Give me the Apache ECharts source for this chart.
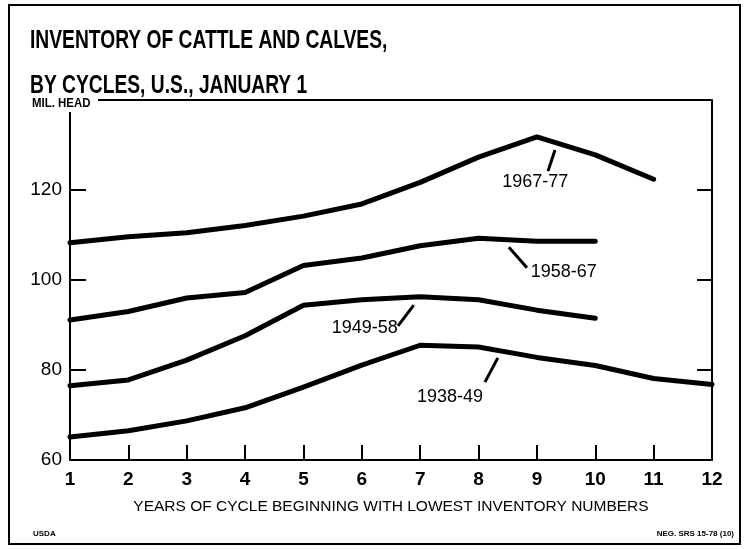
<!DOCTYPE html>
<html>
<head>
<meta charset="utf-8">
<script src="https://cdn.jsdelivr.net/npm/echarts@6/dist/echarts.min.js"></script>
<style>
  html, body { margin: 0; padding: 0; background: #fff; }
  #main { width: 746px; height: 549px; }
</style>
</head>
<body>
<div id="main"></div>
<script>
// 年份（周期中的第几年）
var years = [1, 2, 3, 4, 5, 6, 7, 8, 9, 10, 11, 12];
// 各周期存栏量，百万头
var cycle1938 = [65.1, 66.5, 68.7, 71.6, 76.2, 81.1, 85.5, 85.1, 82.8, 81.0, 78.1, 76.8];
var cycle1949 = [76.5, 77.8, 82.2, 87.6, 94.4, 95.6, 96.3, 95.6, 93.3, 91.5];
var cycle1958 = [91.1, 93.0, 96.0, 97.2, 103.2, 104.9, 107.6, 109.3, 108.6, 108.6];
var cycle1967 = [108.3, 109.6, 110.5, 112.1, 114.2, 116.9, 121.7, 127.3, 131.8, 127.8, 122.4];
var yTicks = [60, 80, 100, 120];

function pairs(vals) {
    return vals.map(function (v, i) { return [years[i], v]; });
}

var myChart = echarts.init(document.getElementById('main'));

var lineStyle = { color: '#000', width: 5, cap: 'round', join: 'round' };
var leader = { color: '#000', width: 3, type: 'solid' };
var lblFont = { color: '#000', fontFamily: 'Liberation Sans, Arial', fontSize: 18 };

function makeSeries(name, vals, labelPos, lineFrom, lineTo) {
    return {
        name: name,
        type: 'line',
        data: pairs(vals),
        symbol: 'none',
        lineStyle: lineStyle,
        silent: true,
        markPoint: {
            symbol: 'circle',
            symbolSize: 0,
            silent: true,
            label: Object.assign({ show: true, position: 'inside', formatter: name }, lblFont),
            data: [{ coord: labelPos }]
        },
        markLine: {
            symbol: 'none',
            silent: true,
            label: { show: false },
            lineStyle: leader,
            data: [[{ coord: lineFrom }, { coord: lineTo }]]
        }
    };
}

var option = {
    animation: false,
    grid: { left: 70, right: 34, top: 100, bottom: 89 },
    xAxis: [{
        type: 'value',
        min: 1, max: 12, interval: 1,
        name: 'YEARS OF CYCLE BEGINNING WITH LOWEST INVENTORY NUMBERS',
        nameLocation: 'middle',
        nameGap: 39,
        nameTextStyle: { color: '#000', fontFamily: 'Liberation Sans, Arial', fontSize: 15.5 },
        axisLine: { show: true, lineStyle: { color: '#000', width: 2 } },
        axisTick: { show: true, inside: true, length: 15, lineStyle: { color: '#000', width: 2 } },
        axisLabel: { color: '#000', margin: 10, fontFamily: 'Liberation Sans, Arial', fontWeight: 'bold', fontSize: 19 },
        splitLine: { show: false }
    }],
    yAxis: [{
        type: 'value',
        min: 60, max: 140, interval: 20,
        position: 'left',
        axisLine: { show: true, lineStyle: { color: '#000', width: 2 } },
        axisTick: { show: true, inside: true, length: 16, lineStyle: { color: '#000', width: 2 } },
        axisLabel: {
            color: '#000', margin: 8, fontFamily: 'Liberation Sans, Arial', fontSize: 19,
            formatter: function (v) { return yTicks.indexOf(v) >= 0 ? String(v) : ''; }
        },
        splitLine: { show: false }
    }, {
        type: 'value',
        min: 60, max: 140, interval: 20,
        position: 'right',
        axisLine: { show: true, lineStyle: { color: '#000', width: 2 } },
        axisTick: { show: true, inside: true, length: 15, lineStyle: { color: '#000', width: 2 } },
        axisLabel: { show: false },
        splitLine: { show: false }
    }],
    series: [
        makeSeries('1967-77', cycle1967, [8.97, 121.8], [9.31, 128.9], [9.19, 124.2]),
        makeSeries('1958-67', cycle1958, [9.46, 101.8], [8.52, 107.3], [8.83, 102.7]),
        makeSeries('1949-58', cycle1949, [6.05, 89.3], [6.89, 94.4], [6.62, 89.8]),
        makeSeries('1938-49', cycle1938, [7.51, 74.0], [8.33, 82.7], [8.11, 77.3])
    ],
    graphic: [
        // 外框
        { type: 'rect', shape: { x: 9, y: 5, width: 731, height: 539 }, style: { fill: 'none', stroke: '#000', lineWidth: 2 }, z: 10 },
        // 标题（字体压窄）
        { type: 'text', x: 30, y: 41, scaleX: 0.74, z: 30, style: { text: 'INVENTORY OF CATTLE AND CALVES,', fill: '#000', verticalAlign: 'middle', font: 'bold 26px "Liberation Sans", Arial' } },
        { type: 'text', x: 30, y: 86, scaleX: 0.74, z: 30, style: { text: 'BY CYCLES, U.S., JANUARY 1', fill: '#000', verticalAlign: 'middle', font: 'bold 26px "Liberation Sans", Arial' } },
        // 绘图区上边线
        { type: 'line', shape: { x1: 98, y1: 100, x2: 712, y2: 100 }, style: { stroke: '#000', lineWidth: 2 }, z: 10 },
        // 遮住左轴顶端
        { type: 'rect', shape: { x: 60, y: 94, width: 38, height: 18 }, style: { fill: '#fff' }, z: 20 },
        { type: 'text', x: 32, y: 103, scaleX: 0.88, z: 30, style: { text: 'MIL. HEAD', fill: '#000', verticalAlign: 'middle', font: 'bold 13px "Liberation Sans", Arial' } },
        { type: 'text', left: 33, top: 530, z: 30, style: { text: 'USDA', fill: '#000', font: 'bold 8px "Liberation Sans", Arial' } },
        { type: 'text', right: 12, top: 530, z: 30, style: { text: 'NEG. SRS 15-78 (10)', fill: '#000', font: 'bold 8px "Liberation Sans", Arial' } }
    ]
};

myChart.setOption(option);
window.onresize = myChart.resize;
</script>
</body>
</html>
